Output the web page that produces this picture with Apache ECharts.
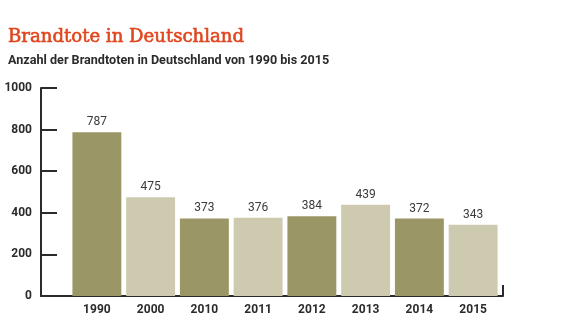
<!DOCTYPE html>
<html><head><meta charset="utf-8">
<script src="https://cdn.jsdelivr.net/npm/echarts@6/dist/echarts.min.js"></script>
<style>html,body{margin:0;padding:0;background:#fff}#c{width:565px;height:330px}</style>
</head><body><div id="c"></div>
<script>
var categories = ['1990','2000','2010','2011','2012','2013','2014','2015'];
var values = [787, 475, 373, 376, 384, 439, 372, 343];
var yTicks = [0, 200, 400, 600, 800, 1000];
var barColors = ['#9b9666', '#cecab0'];

var chart = echarts.init(document.getElementById('c'), null, {renderer:'canvas'});
chart.setOption({
  animation: false,
  backgroundColor: '#fff',
  title: [
    {text: 'Brandtote in Deutschland', left: 3, top: 23,
     textStyle: {fontFamily: 'DejaVu Serif', fontSize: 18.1, fontWeight: 'normal', color: '#e0461e',
                 textBorderColor: '#e0461e', textBorderWidth: 0.6}},
    {text: 'Anzahl der Brandtoten in Deutschland von 1990 bis 2015', left: 3, top: 49,
     textStyle: {fontFamily: 'Roboto', fontSize: 12.6, fontWeight: 'bold', color: '#2b2b2b'}}
  ],
  grid: [
    {left: 41, right: 62, top: 88, bottom: 34},
    {left: 70, right: 65, top: 88, bottom: 34}
  ],
  xAxis: [
    {gridIndex: 0, type: 'value', min: 0, max: 1, interval: 1,
     axisLine: {show: true, lineStyle: {color: '#2b2b2b', width: 2}},
     axisTick: {show: true, inside: true, length: 11, lineStyle: {color: '#2b2b2b', width: 2}},
     axisLabel: {show: false}, splitLine: {show: false}},
    {gridIndex: 1, type: 'category', data: categories,
     axisLine: {show: false}, axisTick: {show: false},
     axisLabel: {margin: 8, fontFamily: 'Roboto', fontSize: 12, fontWeight: 'bold', color: '#2b2b2b'}}
  ],
  yAxis: [
    {gridIndex: 0, type: 'value', min: yTicks[0], max: yTicks[yTicks.length-1], interval: 200,
     axisLine: {show: true, lineStyle: {color: '#2b2b2b', width: 2}},
     axisTick: {show: true, inside: true, length: 16, lineStyle: {color: '#2b2b2b', width: 2}},
     axisLabel: {margin: 9, fontFamily: 'Roboto', fontSize: 12, fontWeight: 'bold', color: '#2b2b2b',
                 formatter: function(v){ return String(v); }},
     splitLine: {show: false}},
    {gridIndex: 1, type: 'value', min: 0, max: 1000, show: false}
  ],
  series: [{
    type: 'bar', xAxisIndex: 1, yAxisIndex: 1,
    data: values.map(function(v, i){ return {value: v, itemStyle: {color: barColors[i % 2]}}; }),
    barCategoryGap: '9%',
    label: {show: true, position: 'top', distance: 4, fontFamily: 'Roboto', fontSize: 12, color: '#3a3a3a'}
  }]
});
</script></body></html>
